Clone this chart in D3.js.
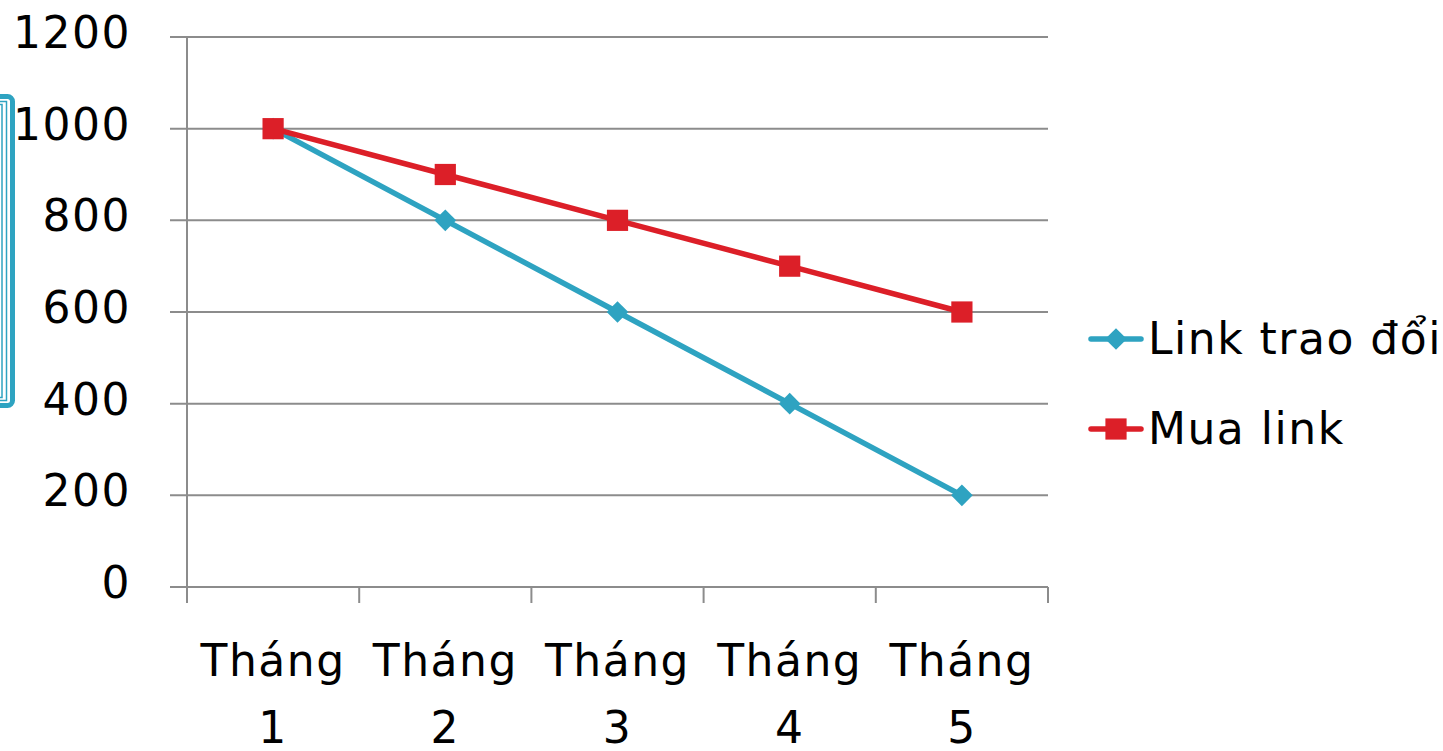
<!DOCTYPE html>
<html><head><meta charset="utf-8">
<script src="https://cdn.jsdelivr.net/npm/d3@7"></script>
<style>
html,body{margin:0;padding:0;background:#fff;overflow:hidden;}
text{font-family:"DejaVu Sans",sans-serif;fill:#000;}
</style></head>
<body>
<svg id="chart" width="1443" height="751"></svg>
<script>
const categories = ["Tháng 1","Tháng 2","Tháng 3","Tháng 4","Tháng 5"];
const seriesNames = ["Link trao đổi","Mua link"];
const linkTraoDoi = [1000, 800, 600, 400, 200];
const muaLink = [1000, 900, 800, 700, 600];
const yTicks = [0, 200, 400, 600, 800, 1000, 1200];
const colors = ["#2EA3C1", "#DC1F28"];

(function(){
const svg = d3.select("#chart");
const pL = 187, pR = 1048, pT = 37, pB = 587;
const x = d3.scaleBand().domain(categories).range([pL, pR]);
const y = d3.scaleLinear().domain([0, 1200]).range([pB, pT]);
const fs = 44;
const ls = 1.5;

function marker(sel, si) {
  if (si === 0) {
    sel.attr("d", d3.symbol().type(d3.symbolSquare).size(235)());
    sel.attr("transform", function(){ return d3.select(this).attr("transform") + " rotate(45)"; });
  } else {
    sel.attr("d", d3.symbol().type(d3.symbolSquare).size(450)());
  }
}

// teal frame decoration on the left
const frame = svg.append("g");
frame.append("rect").attr("x", -20).attr("y", 96.5).attr("width", 32.5).attr("height", 309)
  .attr("rx", 5).attr("fill", "none").attr("stroke", "#2EA3C1").attr("stroke-width", 5);
frame.append("rect").attr("x", -20).attr("y", 101.5).attr("width", 26.5).attr("height", 299)
  .attr("fill", "none").attr("stroke", "#2EA3C1").attr("stroke-width", 1.5);
frame.append("rect").attr("x", -20).attr("y", 104.5).attr("width", 22).attr("height", 293)
  .attr("fill", "none").attr("stroke", "#2EA3C1").attr("stroke-width", 1.5);

// gridlines
svg.append("g").selectAll("line").data(yTicks).join("line")
  .attr("x1", pL - 17).attr("x2", pR)
  .attr("y1", d => y(d)).attr("y2", d => y(d))
  .attr("stroke", "#8c8c8c").attr("stroke-width", 2);

// y axis line
svg.append("line").attr("x1", pL).attr("x2", pL).attr("y1", pT).attr("y2", pB + 16)
  .attr("stroke", "#8c8c8c").attr("stroke-width", 2);

// x ticks at category boundaries
const bounds = categories.map(c => x(c)).concat([pR]);
svg.append("g").selectAll("line").data(bounds).join("line")
  .attr("x1", d => d).attr("x2", d => d).attr("y1", pB).attr("y2", pB + 16)
  .attr("stroke", "#8c8c8c").attr("stroke-width", 2);

// y labels
svg.append("g").selectAll("text").data(yTicks).join("text")
  .attr("x", 131).attr("y", d => y(d) + 11)
  .attr("text-anchor", "end").attr("font-size", fs).attr("letter-spacing", ls)
  .text(d => d);

// x labels (two lines)
const xl = svg.append("g").selectAll("text").data(categories).join("text")
  .attr("text-anchor", "middle").attr("font-size", fs).attr("letter-spacing", ls);
xl.each(function(d){
  const parts = d.split(" ");
  const t = d3.select(this);
  t.append("tspan").attr("x", x(d) + x.bandwidth()/2).attr("y", 676).text(parts[0]);
  t.append("tspan").attr("x", x(d) + x.bandwidth()/2).attr("y", 743).text(parts[1]);
});

const series = [linkTraoDoi, muaLink];
const line = d3.line().x((d, i) => x(categories[i]) + x.bandwidth()/2).y(d => y(d));

series.forEach((vals, si) => {
  const g = svg.append("g");
  g.append("path").datum(vals).attr("d", line).attr("fill", "none")
    .attr("stroke", colors[si]).attr("stroke-width", 5.5).attr("stroke-linejoin", "round");
  const m = g.selectAll("path.m").data(vals).join("path").attr("class", "m")
    .attr("transform", (d, i) => `translate(${x(categories[i]) + x.bandwidth()/2},${y(d)})`)
    .attr("fill", colors[si]);
  marker(m, si);
});

// legend
const legY = [339, 429];
seriesNames.forEach((name, i) => {
  const g = svg.append("g");
  g.append("line").attr("x1", 1091).attr("x2", 1141).attr("y1", legY[i]).attr("y2", legY[i])
    .attr("stroke", colors[i]).attr("stroke-width", 5.5).attr("stroke-linecap", "round");
  const m = g.append("path").attr("transform", `translate(1116,${legY[i]})`)
    .attr("fill", colors[i]);
  marker(m, i);
  g.append("text").attr("x", 1148).attr("y", legY[i] + 15).attr("font-size", fs)
    .attr("letter-spacing", ls).text(name);
});
})();
</script>
</body></html>
